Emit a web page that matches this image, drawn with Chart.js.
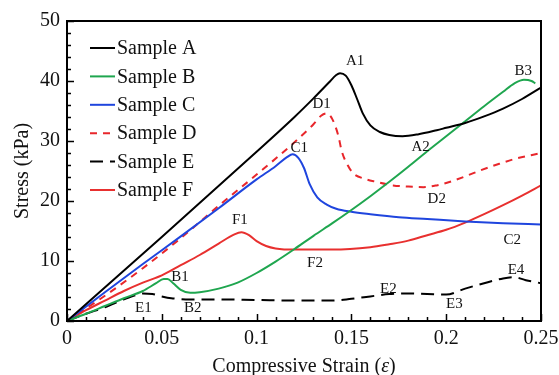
<!DOCTYPE html>
<html>
<head>
<meta charset="utf-8">
<script src="https://cdn.jsdelivr.net/npm/chart.js@4.4.1/dist/chart.umd.min.js"></script>
<style>
  html, body { margin: 0; padding: 0; background: #fff; }
  #wrap { width: 559px; height: 375px; position: relative; }
</style>
</head>
<body>
<div id="wrap"><canvas id="c" width="559" height="375"></canvas></div>
<script>
// ---- data ----
const seriesNames = ["Sample A", "Sample B", "Sample C", "Sample D", "Sample E", "Sample F"];

const strainA = [0, 0.05, 0.1, 0.12, 0.13, 0.138, 0.142, 0.144, 0.147, 0.15, 0.153, 0.156, 0.16, 0.165, 0.17, 0.177, 0.185, 0.195, 0.2, 0.21, 0.22, 0.23, 0.24, 0.25];
const stressA = [0, 14, 28.2, 34, 37.1, 39.7, 41.0, 41.3, 40.9, 39.3, 37.0, 34.6, 32.6, 31.5, 31.0, 30.8, 31.1, 31.8, 32.2, 33.0, 34.1, 35.4, 37.0, 38.9];

const strainB = [0, 0.01, 0.02, 0.03, 0.04, 0.047, 0.051, 0.053, 0.056, 0.06, 0.065, 0.07, 0.08, 0.09, 0.1, 0.11, 0.12, 0.13, 0.14, 0.15, 0.16, 0.17, 0.18, 0.19, 0.2, 0.21, 0.22, 0.23, 0.236, 0.241, 0.245, 0.247];
const stressB = [0, 1.2, 2.5, 3.8, 5.0, 6.3, 7.0, 7.0, 6.3, 5.2, 4.7, 4.8, 5.4, 6.4, 8.0, 9.9, 12.0, 14.2, 16.3, 18.5, 20.8, 23.2, 25.7, 28.3, 30.8, 33.3, 35.8, 38.2, 39.6, 40.2, 40.0, 39.6];

const strainC = [0, 0.02, 0.04, 0.06, 0.08, 0.1, 0.11, 0.116, 0.119, 0.122, 0.125, 0.128, 0.132, 0.137, 0.142, 0.15, 0.16, 0.175, 0.19, 0.21, 0.23, 0.25];
const stressC = [0, 4.8, 9.5, 14.1, 18.8, 23.6, 25.8, 27.3, 27.8, 27.2, 25.5, 22.8, 20.6, 19.4, 18.7, 18.2, 17.8, 17.3, 17.0, 16.6, 16.3, 16.1];

const strainD = [0, 0.02, 0.04, 0.06, 0.08, 0.1, 0.12, 0.13, 0.134, 0.137, 0.14, 0.143, 0.145, 0.148, 0.151, 0.157, 0.163, 0.172, 0.18, 0.188, 0.195, 0.2, 0.21, 0.218, 0.228, 0.236, 0.25];
const stressD = [0, 4.2, 8.8, 13.8, 19.2, 24.4, 29.8, 32.8, 34.2, 34.6, 33.6, 31.0, 28.2, 26.0, 24.6, 23.7, 23.2, 22.6, 22.4, 22.3, 22.6, 23.0, 24.1, 25.1, 26.2, 27.0, 28.0];

const strainE = [0, 0.01, 0.02, 0.03, 0.036, 0.04, 0.045, 0.05, 0.055, 0.065, 0.08, 0.1, 0.12, 0.14, 0.15, 0.16, 0.17, 0.18, 0.19, 0.2, 0.21, 0.22, 0.23, 0.236, 0.242, 0.25];
const stressE = [0, 1.2, 2.3, 3.6, 4.3, 4.6, 4.5, 4.1, 3.8, 3.6, 3.6, 3.5, 3.4, 3.4, 3.7, 4.1, 4.5, 4.6, 4.5, 4.4, 5.4, 6.3, 7.1, 7.3, 6.8, 6.3];

const strainF = [0, 0.01, 0.02, 0.03, 0.04, 0.05, 0.06, 0.07, 0.08, 0.088, 0.092, 0.096, 0.1, 0.105, 0.11, 0.12, 0.14, 0.16, 0.17, 0.18, 0.19, 0.2, 0.21, 0.22, 0.23, 0.24, 0.25];
const stressF = [0, 1.8, 3.4, 5.0, 6.4, 7.6, 9.3, 11.0, 12.9, 14.4, 14.8, 14.3, 13.3, 12.5, 12.1, 11.9, 11.9, 12.3, 12.8, 13.4, 14.3, 15.2, 16.4, 17.8, 19.3, 20.9, 22.6];

const xTickLabels = ["0", "0.05", "0.1", "0.15", "0.2", "0.25"];
const yTickLabels = ["0", "10", "20", "30", "40", "50"];
const xTitleParts = ["Compressive Strain (", "ε", ")"];

const noteTexts = ["A1", "A2", "B1", "B2", "B3", "C1", "C2", "D1", "D2", "E1", "E2", "E3", "E4", "F1", "F2"];
const noteStrain = [0.152, 0.1865, 0.0596, 0.0663, 0.2407, 0.1225, 0.2349, 0.1343, 0.195, 0.0403, 0.1695, 0.2043, 0.2368, 0.0912, 0.1308];
const noteStress = [43.3, 29.0, 7.3, 2.1, 41.6, 28.8, 13.45, 36.1, 20.4, 2.1, 5.4, 2.9, 8.56, 16.9, 9.7];

// ---- styles ----
const colors = ["#000000", "#1fa64f", "#1f45de", "#e8262b", "#000000", "#e8302f"];
const dashes = [[], [], [], [7, 6], [13, 7], []];
const serif = "'Liberation Serif', 'DejaVu Serif', serif";

function pairs(xs, ys) { return xs.map((x, i) => ({ x: x, y: ys[i] })); }
const allX = [strainA, strainB, strainC, strainD, strainE, strainF];
const allY = [stressA, stressB, stressC, stressD, stressE, stressF];

const datasets = seriesNames.map((n, i) => ({
  label: n,
  data: pairs(allX[i], allY[i]),
  borderColor: colors[i],
  backgroundColor: colors[i],
  borderWidth: 2,
  borderDash: dashes[i],
  pointRadius: 0,
  cubicInterpolationMode: 'monotone',
  fill: false
}));

const framePlugin = {
  id: 'frame',
  afterDatasetsDraw(chart) {
    const ctx = chart.ctx;
    const xs = chart.scales.x, ys = chart.scales.y;
    const a = chart.chartArea;
    ctx.save();
    // annotations
    ctx.fillStyle = '#111';
    ctx.font = "15px " + serif;
    ctx.textAlign = 'center';
    ctx.textBaseline = 'middle';
    noteTexts.forEach((t, i) => {
      ctx.fillText(t, xs.getPixelForValue(noteStrain[i]), ys.getPixelForValue(noteStress[i]));
    });
    // frame
    ctx.strokeStyle = '#000';
    ctx.lineWidth = 2;
    ctx.strokeRect(a.left, a.top, a.right - a.left, a.bottom - a.top);
    // inside ticks
    ctx.lineWidth = 1.5;
    ctx.beginPath();
    for (let k = 0; k <= 25; k++) {
      const v = k / 100;
      const px = Math.round(xs.getPixelForValue(v)) + 0.5;
      const len = (k % 5 === 0) ? 7 : 4;
      ctx.moveTo(px, a.bottom); ctx.lineTo(px, a.bottom - len);
    }
    for (let k = 0; k <= 25; k++) {
      const v = k * 2;
      const py = Math.round(ys.getPixelForValue(v)) + 0.5;
      const len = (k % 5 === 0) ? 7 : 4;
      ctx.moveTo(a.left, py); ctx.lineTo(a.left + len, py);
    }
    ctx.stroke();
    // legend
    const lx0 = a.left + 23, lx1 = a.left + 48, tx = a.left + 50;
    ctx.font = "20px " + serif;
    ctx.textAlign = 'left';
    ctx.textBaseline = 'middle';
    seriesNames.forEach((n, i) => {
      const y = a.top + 27 + i * 28.4;
      ctx.strokeStyle = colors[i];
      ctx.lineWidth = 2;
      ctx.setLineDash(dashes[i]);
      ctx.lineDashOffset = 0;
      ctx.beginPath();
      ctx.moveTo(lx0, y); ctx.lineTo(lx1, y);
      ctx.stroke();
      ctx.setLineDash([]);
      ctx.fillStyle = '#111';
      ctx.fillText(n, tx, y + 1);
    });
    // x-axis title with italic epsilon
    const fonts = ["20px " + serif, "italic 20px " + serif, "20px " + serif];
    let widths = xTitleParts.map((t, i) => { ctx.font = fonts[i]; return ctx.measureText(t).width; });
    const total = widths.reduce((s, w) => s + w, 0);
    let cx = (a.left + a.right) / 2 - total / 2;
    ctx.textAlign = 'left';
    ctx.textBaseline = 'alphabetic';
    ctx.fillStyle = '#111';
    xTitleParts.forEach((t, i) => {
      ctx.font = fonts[i];
      ctx.fillText(t, cx, a.bottom + 51);
      cx += widths[i];
    });
    ctx.restore();
  }
};

new Chart(document.getElementById('c'), {
  type: 'line',
  data: { datasets: datasets },
  plugins: [framePlugin],
  options: {
    responsive: false,
    animation: false,
    layout: { padding: { top: 0, right: 0, left: 13, bottom: 3 } },
    plugins: { legend: { display: false }, tooltip: { enabled: false } },
    scales: {
      x: {
        type: 'linear', min: 0, max: 0.25,
        grid: { display: false, drawTicks: false },
        border: { display: false },
        afterFit: (s) => { s.height = 51; s.paddingLeft = 0; s.paddingRight = 18; },
        ticks: {
          stepSize: 0.05, padding: 8, color: '#111', maxRotation: 0,
          font: { family: serif, size: 20, lineHeight: 1 },
          callback: (v) => xTickLabels[Math.round(v / 0.05)]
        },
        title: { display: false }
      },
      y: {
        type: 'linear', min: 0, max: 50,
        grid: { display: false, drawTicks: false },
        border: { display: false },
        afterFit: (s) => { s.width = 54; s.paddingTop = 21; s.paddingBottom = 0; },
        ticks: {
          stepSize: 10, padding: 7, color: '#111',
          font: { family: serif, size: 20, lineHeight: 1 },
          callback: (v) => yTickLabels[Math.round(v / 10)]
        },
        title: { display: true, text: 'Stress (kPa)', color: '#111', font: { family: serif, size: 20, lineHeight: 1 }, padding: { top: 0, bottom: 0 } }
      }
    }
  }
});
</script>
</body>
</html>
